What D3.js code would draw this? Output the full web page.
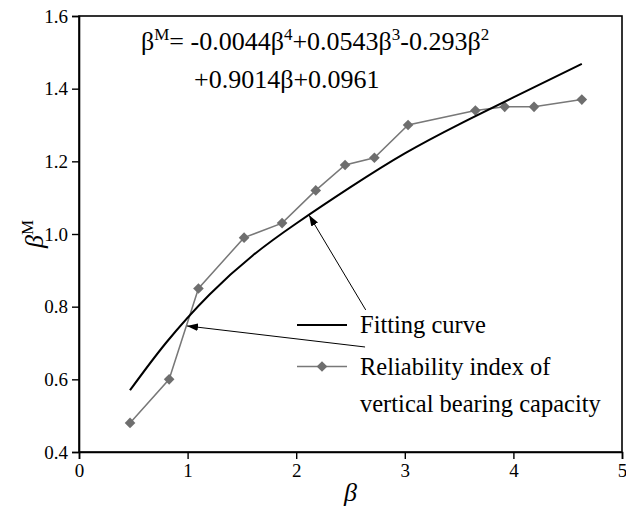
<!DOCTYPE html>
<html>
<head>
<meta charset="utf-8">
<script src="https://cdn.jsdelivr.net/npm/d3@7"></script>
<style>
  body { margin: 0; background: #fff; }
  svg { display: block; }
  svg text { font-family: "Liberation Serif", serif; fill: #000; }
</style>
</head>
<body>
<svg id="chart" width="626" height="511"></svg>
<script>
const width = 626, height = 511;
const margin = {top: 16, right: 4, bottom: 59, left: 79};
const serif = 'Liberation Serif';

// measured reliability index of vertical bearing capacity
const beta_points = [0.47, 0.83, 1.10, 1.52, 1.87, 2.18, 2.45, 2.72, 3.03, 3.65, 3.92, 4.19, 4.63];
const betaM_points = [0.48, 0.60, 0.85, 0.99, 1.03, 1.12, 1.19, 1.21, 1.30, 1.34, 1.35, 1.35, 1.37];

// fitting curve
const beta_fit = [0.47, 0.8, 1.2, 1.6, 2.0, 2.5, 3.0, 3.5, 4.0, 4.63];
const betaM_fit = [0.57, 0.70, 0.833, 0.941, 1.029, 1.129, 1.222, 1.302, 1.376, 1.468];

const x_ticks = [0, 1, 2, 3, 4, 5];
const y_ticks = [0.4, 0.6, 0.8, 1.0, 1.2, 1.4, 1.6];

const svg = d3.select('#chart');

const x = d3.scaleLinear().domain([0, 5]).range([margin.left, width - margin.right]);
const y = d3.scaleLinear().domain([0.4, 1.6]).range([height - margin.bottom, margin.top]);

svg.append('defs').append('marker')
  .attr('id', 'arrow')
  .attr('viewBox', '0 0 10 10')
  .attr('refX', 10).attr('refY', 5)
  .attr('markerWidth', 11).attr('markerHeight', 11)
  .attr('markerUnits', 'userSpaceOnUse')
  .attr('orient', 'auto')
  .append('path')
  .attr('d', 'M0,1.5 L10,5 L0,8.5 Z')
  .attr('fill', '#000');

// axes
const xAxis = svg.append('g')
  .attr('transform', `translate(0,${height - margin.bottom})`)
  .call(d3.axisBottom(x).tickValues(x_ticks).tickFormat(d3.format('d')).tickSizeOuter(0).tickSize(7).tickPadding(5));

const yAxis = svg.append('g')
  .attr('transform', `translate(${margin.left},0)`)
  .call(d3.axisLeft(y).tickValues(y_ticks).tickFormat(d3.format('.1f')).tickSizeOuter(0).tickSize(7).tickPadding(4));

[xAxis, yAxis].forEach(g => {
  g.attr('font-family', serif).attr('font-size', 19);
  g.select('.domain').attr('stroke-width', 1.6);
  g.selectAll('.tick line').attr('stroke-width', 1.4);
  g.selectAll('.tick text')
    .style('font-family', serif)
    .style('font-size', '19px')
    .attr('fill', '#000');
});

// frame
svg.append('rect')
  .attr('x', margin.left).attr('y', margin.top)
  .attr('width', width - margin.left - margin.right)
  .attr('height', height - margin.top - margin.bottom)
  .attr('fill', 'none').attr('stroke', '#000').attr('stroke-width', 1.6);

// measured series
const pts = beta_points.map((b, i) => [b, betaM_points[i]]);
svg.append('path')
  .datum(pts)
  .attr('fill', 'none').attr('stroke', '#787878').attr('stroke-width', 1.5)
  .attr('d', d3.line().x(d => x(d[0])).y(d => y(d[1])));

const diamond = d3.symbol().type(d3.symbolDiamond2).size(72);
svg.selectAll('path.pt')
  .data(pts)
  .enter().append('path')
  .attr('class', 'pt')
  .attr('transform', d => `translate(${x(d[0])},${y(d[1])})`)
  .attr('d', diamond)
  .attr('fill', '#6e6e6e');

// fitting curve
const fit = beta_fit.map((b, i) => [b, betaM_fit[i]]);
svg.append('path')
  .datum(fit)
  .attr('fill', 'none').attr('stroke', '#000').attr('stroke-width', 2)
  .attr('d', d3.line().curve(d3.curveNatural).x(d => x(d[0])).y(d => y(d[1])));

// arrows pointing from the legend to the lines
const arrows = [
  {from: [2.64, 0.791], to: [2.118, 1.052]},
  {from: [2.634, 0.689], to: [0.994, 0.747]}
];
svg.selectAll('line.arrow')
  .data(arrows)
  .enter().append('line')
  .attr('class', 'arrow')
  .attr('x1', d => x(d.from[0])).attr('y1', d => y(d.from[1]))
  .attr('x2', d => x(d.to[0])).attr('y2', d => y(d.to[1]))
  .attr('stroke', '#000').attr('stroke-width', 1)
  .attr('marker-end', 'url(#arrow)');

// legend
const lg = svg.append('g').attr('font-family', serif).style('font-size', '24.5px');
lg.append('line')
  .attr('x1', 297).attr('x2', 347).attr('y1', 325).attr('y2', 325)
  .attr('stroke', '#000').attr('stroke-width', 2);
lg.append('text').attr('x', 360).attr('y', 333).text('Fitting curve');

lg.append('line')
  .attr('x1', 297).attr('x2', 347).attr('y1', 366.5).attr('y2', 366.5)
  .attr('stroke', '#787878').attr('stroke-width', 1.5);
lg.append('path')
  .attr('transform', 'translate(322,366.5)')
  .attr('d', diamond)
  .attr('fill', '#6e6e6e');
lg.append('text').attr('x', 360).attr('y', 375).text('Reliability index of');
lg.append('text').attr('x', 360).attr('y', 412).text('vertical bearing capacity');

// equation
const sup = (t, s) => t.append('tspan').attr('dy', -10).style('font-size', '17px').text(s);
const eq1 = svg.append('text').attr('x', 141).attr('y', 50)
  .attr('font-family', serif).style('font-size', '26px');
eq1.append('tspan').text('β');
sup(eq1, 'M');
eq1.append('tspan').attr('dy', 10).text('= -0.0044β');
sup(eq1, '4');
eq1.append('tspan').attr('dy', 10).text('+0.0543β');
sup(eq1, '3');
eq1.append('tspan').attr('dy', 10).text('-0.293β');
sup(eq1, '2');

svg.append('text').attr('x', 194).attr('y', 88)
  .attr('font-family', serif).style('font-size', '26px')
  .text('+0.9014β+0.0961');

// axis titles
svg.append('text')
  .attr('x', x(2.5)).attr('y', 501)
  .attr('text-anchor', 'middle')
  .attr('font-family', serif)
  .style('font-size', '26px').style('font-style', 'italic')
  .text('β');

const yt = svg.append('text')
  .attr('transform', `translate(43,${y(1.0)}) rotate(-90)`)
  .attr('text-anchor', 'middle')
  .attr('font-family', serif)
  .style('font-size', '26px');
yt.append('tspan').style('font-style', 'italic').text('β');
yt.append('tspan').attr('dy', -10).style('font-size', '17px').text('M');
</script>
</body>
</html>
